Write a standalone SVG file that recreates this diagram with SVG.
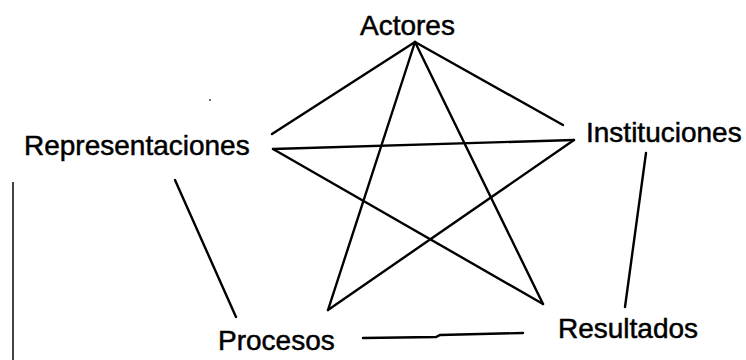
<svg xmlns="http://www.w3.org/2000/svg" width="746" height="360" viewBox="0 0 746 360">
<style>
.lbl{font-family:"Liberation Sans",Arial,sans-serif;font-size:28px;fill:#000;stroke:#000;stroke-width:0.5;}
.edge{stroke:#000;stroke-width:2.4;fill:none;stroke-linecap:round;}
</style>
<rect width="746" height="360" fill="#fff"/>
<g id="connectors">
<line class="edge" x1="415" y1="42" x2="272" y2="134"/>
<line class="edge" x1="415" y1="42" x2="563" y2="125"/>
<line class="edge" x1="415" y1="42" x2="328" y2="310"/>
<line class="edge" x1="415" y1="42" x2="543" y2="304"/>
<line class="edge" x1="273" y1="149" x2="574" y2="140"/>
<line class="edge" x1="273" y1="149" x2="543" y2="304"/>
<line class="edge" x1="574" y1="140" x2="328" y2="310"/>
<line class="edge" x1="175" y1="180" x2="236" y2="317"/>
<line class="edge" x1="646" y1="153" x2="625" y2="307"/>
<polyline class="edge" points="363,338 436,337 440,335 523,333"/>
</g>
<g id="Actores"><text class="lbl" x="360" y="35">Actores</text></g>
<g id="Representaciones"><text class="lbl" x="24" y="155">Representaciones</text></g>
<g id="Instituciones"><text class="lbl" x="586" y="142">Instituciones</text></g>
<g id="Procesos"><text class="lbl" x="218" y="350">Procesos</text></g>
<g id="Resultados"><text class="lbl" x="558" y="338">Resultados</text></g>
<line x1="13" y1="182" x2="13" y2="360" stroke="#444" stroke-width="2"/>
<circle cx="210" cy="100" r="1" fill="#444"/>
</svg>
